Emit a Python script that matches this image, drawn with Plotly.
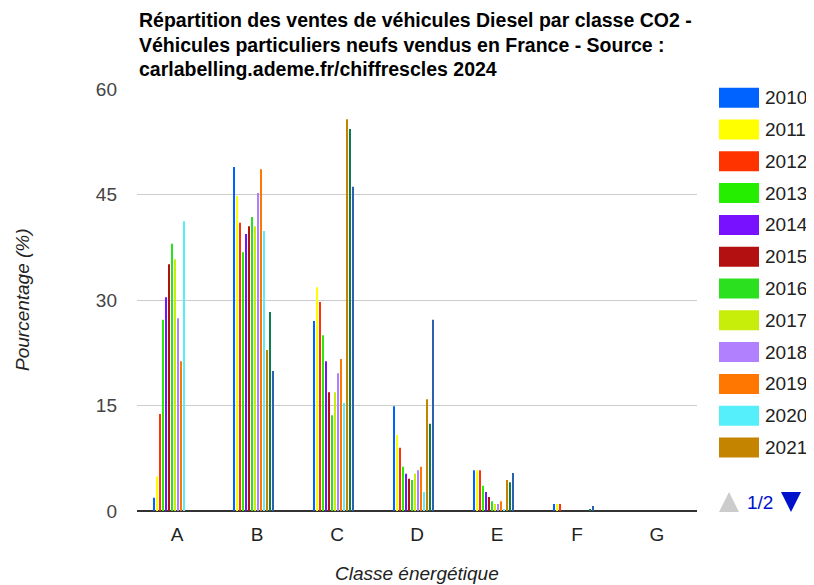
import plotly.graph_objects as go

categories = ["A", "B", "C", "D", "E", "F", "G"]
years = ["2010", "2011", "2012", "2013", "2014", "2015", "2016",
         "2017", "2018", "2019", "2020", "2021", "2022", "2023"]
colors = ["#0062ff", "#ffff00", "#ff3300", "#26ee00", "#7711ff", "#b31111", "#2ae01f",
          "#c6ee0a", "#b080ff", "#ff7700", "#55eefb", "#c48400", "#0b7d4a", "#2a62b0"]

values = {
    "2010": [1.9, 48.9, 27.0, 14.9, 5.8, 1.0, 0],
    "2011": [4.9, 44.8, 31.8, 10.8, 5.8, 1.0, 0],
    "2012": [13.8, 41.0, 29.7, 9.0, 5.8, 1.0, 0],
    "2013": [27.2, 36.8, 25.0, 6.3, 3.6, 0, 0],
    "2014": [30.4, 39.4, 21.3, 5.3, 2.7, 0, 0],
    "2015": [35.1, 40.5, 16.9, 4.6, 2.0, 0, 0],
    "2016": [38.0, 41.8, 13.6, 4.4, 1.4, 0, 0],
    "2017": [35.8, 40.5, 16.9, 5.3, 1.0, 0, 0],
    "2018": [27.4, 45.2, 19.6, 5.8, 1.0, 0, 0],
    "2019": [21.3, 48.6, 21.6, 6.3, 1.4, 0, 0],
    "2020": [41.2, 39.8, 15.4, 2.7, 0.3, 0, 0],
    "2021": [0, 22.9, 55.7, 15.9, 4.4, 0, 0],
    "2022": [0, 28.3, 54.3, 12.4, 4.1, 0.3, 0],
    "2023": [0, 19.9, 46.1, 27.2, 5.4, 0.7, 0],
}
legend_page_years = years[:12]
yticks = [0, 15, 30, 45, 60]

FONT = "Liberation Sans, Arial, sans-serif"
OFF = 8  # page body margin
W, H = 814 - OFF, 585 - OFF
X0, X1, Y0, Y1 = 137, 697, 89, 511  # plot area in screenshot pixels
L, T = X0 - OFF, Y0 - OFF
R, B = W - (X1 - OFF), H - (Y1 - OFF)
PW, PH = X1 - X0, Y1 - Y0
CAT_PX = PW / len(categories)
BAR_W, BAR_PITCH, GROUP_START = 2.0, 3.0, -24.0  # pixels, relative to category centre


def px(x):
    return (x - X0) / PW


def py(y):
    return (Y1 - y) / PH


fig = go.Figure()
for i, (yr, col) in enumerate(zip(years, colors)):
    fig.add_trace(go.Bar(x=categories, y=values[yr], name=yr,
                         width=BAR_W / CAT_PX,
                         offset=(GROUP_START + BAR_PITCH * i) / CAT_PX,
                         marker=dict(color=col, line=dict(width=0)),
                         showlegend=False))

shapes = []
annotations = []
title_lines = ["<b>Répartition des ventes de véhicules Diesel par classe CO2 -</b>",
               "<b>Véhicules particuliers neufs vendus en France - Source :</b>",
               "<b>carlabelling.ademe.fr/chiffrescles 2024</b>"]
for i, t in enumerate(title_lines):
    annotations.append(dict(text=t, xref="paper", yref="paper", x=0, y=py(20 + 24.5 * i),
                            xanchor="left", yanchor="middle", showarrow=False,
                            font=dict(family=FONT, size=19.5, color="#000")))
annotations.append(dict(text="<i>Pourcentage (%)</i>", xref="paper", yref="paper",
                        x=px(22), y=py(300), textangle=-90, showarrow=False,
                        xanchor="center", yanchor="middle",
                        font=dict(family=FONT, size=19, color="#222")))
annotations.append(dict(text="<i>Classe énergétique</i>", xref="paper", yref="paper",
                        x=px(417), y=py(573), showarrow=False,
                        xanchor="center", yanchor="middle",
                        font=dict(family=FONT, size=19, color="#222")))
for i, yr in enumerate(legend_page_years):
    cy = 97.7 + 31.8 * i
    shapes.append(dict(type="rect", xref="paper", yref="paper",
                       x0=px(719), x1=px(759), y0=py(cy - 10), y1=py(cy + 10),
                       fillcolor=colors[i], line=dict(width=0)))
    annotations.append(dict(text=yr, xref="paper", yref="paper", x=px(763), y=py(cy),
                            xanchor="left", yanchor="middle", showarrow=False,
                            font=dict(family=FONT, size=19, color="#222")))
shapes.append(dict(type="path", xref="paper", yref="paper",
                   path=f"M {px(719)} {py(512)} L {px(739)} {py(512)} L {px(729)} {py(492)} Z",
                   fillcolor="#cccccc", line=dict(width=0)))
shapes.append(dict(type="path", xref="paper", yref="paper",
                   path=f"M {px(781)} {py(492)} L {px(801)} {py(492)} L {px(791)} {py(512)} Z",
                   fillcolor="#0011cc", line=dict(width=0)))
annotations.append(dict(text="1/2", xref="paper", yref="paper", x=px(760), y=py(502),
                        xanchor="center", yanchor="middle", showarrow=False,
                        font=dict(family=FONT, size=19, color="#0011cc")))

fig.update_layout(
    width=W, height=H,
    margin=dict(l=L, r=R, t=T, b=B, pad=0),
    paper_bgcolor="white", plot_bgcolor="white",
    barmode="overlay",
    showlegend=False,
    font=dict(family=FONT, size=19, color="#444"),
    shapes=shapes, annotations=annotations,
    xaxis=dict(showgrid=False, showline=False, zeroline=False, ticks="",
               range=[-0.5, len(categories) - 0.5],
               tickfont=dict(family=FONT, size=19, color="#222"), ticklabelstandoff=10),
    yaxis=dict(range=[0, 60], tickvals=yticks, showgrid=True, gridcolor="#cccccc",
               gridwidth=1, zeroline=True, zerolinecolor="#333333", zerolinewidth=2,
               showline=False, ticks="",
               tickfont=dict(family=FONT, size=19, color="#444"), ticklabelstandoff=19),
)
fig.write_html("out.html")
